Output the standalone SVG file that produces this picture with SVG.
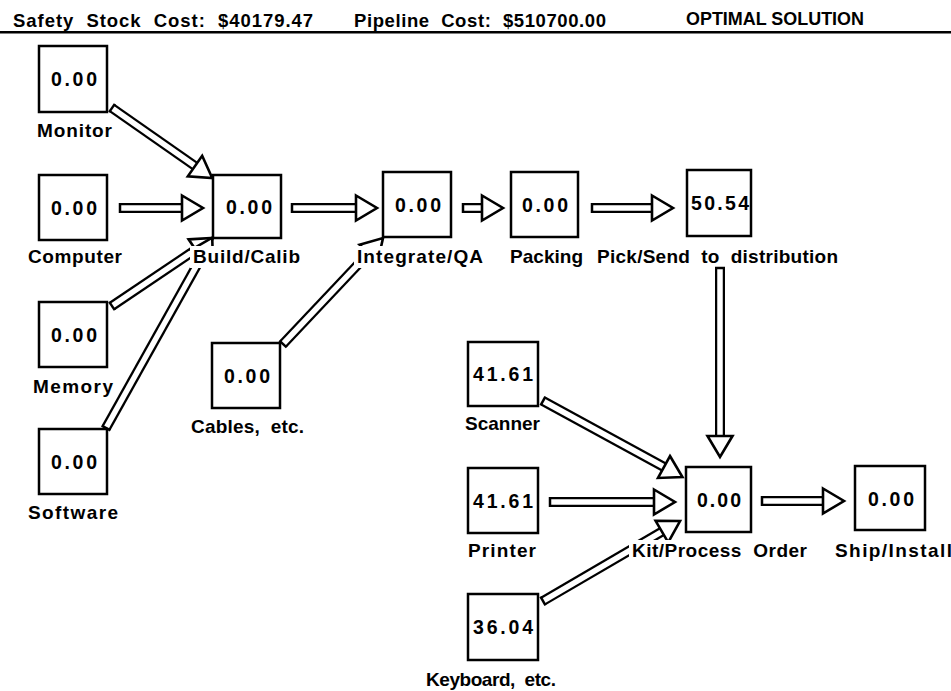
<svg xmlns="http://www.w3.org/2000/svg" width="951" height="691" viewBox="0 0 951 691">
<style>
text{font-family:"Liberation Sans",Arial,Helvetica,sans-serif;font-weight:bold;fill:#000}
.hd{font-size:18.5px}
.num{font-size:19.5px;text-anchor:middle}
.lbl{font-size:19px}
.box{fill:#fff;stroke:#000;stroke-width:2.5}
.bg{fill:#fff}
.o{stroke:#000;stroke-width:10;fill:none}
.i{stroke:#fff;stroke-width:5.5;fill:none;marker-start:url(#t);marker-end:url(#h)}
</style>
<defs>
<marker id="h" markerUnits="userSpaceOnUse" orient="auto" refX="0" refY="0" markerWidth="30" markerHeight="30" overflow="visible">
<path d="M0,-12.5 L21,0 L0,12.5 Z" fill="#fff" stroke="#000" stroke-width="2.6" stroke-linejoin="miter"/>
</marker>
<marker id="t" markerUnits="userSpaceOnUse" orient="auto" refX="0" refY="0" markerWidth="12" markerHeight="12" overflow="visible">
<path d="M0,-5 V5" stroke="#000" stroke-width="2.5"/>
</marker>
</defs>
<g id="header">
<text class="hd" x="13" y="27" textLength="300" lengthAdjust="spacing" xml:space="preserve">Safety  Stock  Cost:  $40179.47</text>
<text class="hd" x="354" y="27" textLength="252" lengthAdjust="spacing" xml:space="preserve">Pipeline  Cost:  $510700.00</text>
<text class="hd" x="686" y="25" textLength="178" lengthAdjust="spacingAndGlyphs">OPTIMAL SOLUTION</text>
<rect x="0" y="31" width="951" height="2.5" fill="#000"/>
</g>
<g id="connectors">
<line class="o" x1="112" y1="108" x2="195" y2="166"/><line class="i" x1="112" y1="108" x2="195" y2="166"/>
<line class="o" x1="120" y1="208" x2="182" y2="208"/><line class="i" x1="120" y1="208" x2="182" y2="208"/>
<line class="o" x1="112" y1="306" x2="195.6" y2="249.7"/><line class="i" x1="112" y1="306" x2="195.6" y2="249.7"/>
<line class="o" x1="106" y1="428" x2="202" y2="256"/><line class="i" x1="106" y1="428" x2="202" y2="256"/>
<line class="o" x1="283" y1="344" x2="368.6" y2="253.3"/><line class="i" x1="283" y1="344" x2="368.6" y2="253.3"/>
<line class="o" x1="292" y1="208" x2="356" y2="208"/><line class="i" x1="292" y1="208" x2="356" y2="208"/>
<line class="o" x1="463" y1="208" x2="482" y2="208"/><line class="i" x1="463" y1="208" x2="482" y2="208"/>
<line class="o" x1="592" y1="208" x2="652" y2="208"/><line class="i" x1="592" y1="208" x2="652" y2="208"/>
<line class="o" x1="720" y1="268" x2="720" y2="436"/><line class="i" x1="720" y1="268" x2="720" y2="436"/>
<line class="o" x1="543" y1="401" x2="664" y2="467"/><line class="i" x1="543" y1="401" x2="664" y2="467"/>
<line class="o" x1="550" y1="502" x2="654" y2="502"/><line class="i" x1="550" y1="502" x2="654" y2="502"/>
<line class="o" x1="543" y1="601" x2="661.9" y2="531.6"/><line class="i" x1="543" y1="601" x2="661.9" y2="531.6"/>
<line class="o" x1="762" y1="501" x2="823" y2="501"/><line class="i" x1="762" y1="501" x2="823" y2="501"/>
</g>
<g id="monitor"><rect class="box" x="39" y="46" width="68" height="66"/><text class="num" x="74" y="86" textLength="46">0.00</text><text class="lbl" x="37" y="137" textLength="75">Monitor</text></g>
<g id="computer"><rect class="box" x="39" y="175" width="68" height="65"/><text class="num" x="74" y="215" textLength="46">0.00</text><text class="lbl" x="28" y="263" textLength="94">Computer</text></g>
<g id="build"><rect class="box" x="213" y="175" width="68" height="63"/><text class="num" x="249" y="214" textLength="46">0.00</text><rect class="bg" x="190" y="246" width="113" height="22"/><text class="lbl" x="193" y="263" textLength="107">Build/Calib</text></g>
<g id="memory"><rect class="box" x="39" y="302" width="68" height="65"/><text class="num" x="74" y="342" textLength="46">0.00</text><text class="lbl" x="33" y="393" textLength="80">Memory</text></g>
<g id="software"><rect class="box" x="39" y="429" width="68" height="65"/><text class="num" x="74" y="469" textLength="46">0.00</text><text class="lbl" x="28" y="519" textLength="90">Software</text></g>
<g id="cables"><rect class="box" x="212" y="343" width="68" height="65"/><text class="num" x="247" y="383" textLength="46">0.00</text><text class="lbl" x="191" y="433" textLength="113" xml:space="preserve">Cables,  etc.</text></g>
<g id="integrate"><rect class="box" x="383" y="172" width="68" height="65"/><text class="num" x="418" y="212" textLength="46">0.00</text><rect class="bg" x="354" y="246" width="132" height="22"/><text class="lbl" x="357" y="263" textLength="126">Integrate/QA</text></g>
<g id="packing"><rect class="box" x="511" y="172" width="67" height="65"/><text class="num" x="545" y="212" textLength="46">0.00</text><text class="lbl" x="510" y="263" textLength="73">Packing</text></g>
<g id="pick"><rect class="box" x="687" y="170" width="64" height="66"/><text class="num" x="720" y="210" textLength="58">50.54</text><text class="lbl" x="597" y="263" textLength="241" xml:space="preserve">Pick/Send  to  distribution</text></g>
<g id="scanner"><rect class="box" x="468" y="342" width="70" height="64"/><text class="num" x="503" y="381" textLength="60">41.61</text><text class="lbl" x="465" y="430" textLength="75">Scanner</text></g>
<g id="printer"><rect class="box" x="468" y="468" width="70" height="65"/><text class="num" x="503" y="508" textLength="60">41.61</text><text class="lbl" x="468" y="557" textLength="68">Printer</text></g>
<g id="keyboard"><rect class="box" x="468" y="594" width="70" height="66"/><text class="num" x="503" y="634" textLength="60">36.04</text><text class="lbl" x="426" y="686" textLength="130" xml:space="preserve">Keyboard,  etc.</text></g>
<g id="kit"><rect class="box" x="686" y="467" width="65" height="65"/><text class="num" x="719" y="507" textLength="44">0.00</text><rect class="bg" x="629" y="540" width="182" height="23"/><text class="lbl" x="632" y="557" textLength="175" xml:space="preserve">Kit/Process  Order</text></g>
<g id="ship"><rect class="box" x="855" y="466" width="70" height="64"/><text class="num" x="891" y="506" textLength="46">0.00</text><text class="lbl" x="835" y="557" textLength="117">Ship/Install</text></g>
</svg>
